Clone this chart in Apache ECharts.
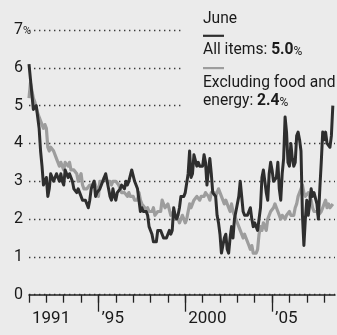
<!DOCTYPE html>
<html><head><meta charset="utf-8">
<script src="https://cdn.jsdelivr.net/npm/echarts@6/dist/echarts.min.js"></script>
<style>html,body{margin:0;padding:0;background:#ebebeb}#c{width:337px;height:335px}</style>
</head><body><div id="c"></div>
<script>
// Monthly 12-month % change, first point at the 1991 tick, last point June 2008
const allItems = [6.1,
5.7,5.3,4.9,4.9,5.0,4.7,4.4,3.8,3.4,2.9,3.0,3.1,
2.6,2.8,3.2,3.2,3.0,3.1,3.2,3.1,3.0,3.2,3.0,2.9,
3.3,3.2,3.1,3.2,3.2,3.0,2.8,2.8,2.7,2.8,2.7,2.7,
2.5,2.5,2.5,2.4,2.3,2.5,2.8,2.9,3.0,2.6,2.7,2.7,
2.8,2.9,2.9,3.1,3.2,3.0,2.8,2.6,2.5,2.8,2.6,2.5,
2.7,2.7,2.8,2.9,2.9,2.8,3.0,2.9,3.0,3.0,3.3,3.3,
3.0,3.0,2.8,2.5,2.2,2.3,2.2,2.2,2.2,2.1,1.8,1.7,
1.6,1.4,1.4,1.4,1.7,1.7,1.7,1.6,1.5,1.5,1.5,1.6,
1.7,1.6,1.7,2.3,2.1,2.0,2.1,2.3,2.6,2.6,2.6,2.7,
2.7,3.2,3.8,3.1,3.2,3.7,3.7,3.4,3.5,3.4,3.4,3.4,
3.7,3.5,2.9,3.3,3.6,3.2,2.7,2.7,2.6,2.1,1.9,1.6,
1.1,1.1,1.5,1.6,1.2,1.1,1.5,1.8,1.5,2.0,2.2,2.4,
2.6,3.0,3.0,2.2,2.1,2.1,2.1,2.2,2.3,2.0,1.8,1.9,
1.9,1.7,1.7,2.3,3.1,3.3,3.0,2.7,2.5,3.2,3.5,3.3,
3.0,3.0,3.1,3.5,2.8,2.5,3.2,3.6,4.7,4.3,3.5,3.4,
4.0,3.6,3.4,3.5,4.2,4.3,4.1,3.8,2.1,1.3,2.0,2.5,
2.1,2.4,2.8,2.6,2.7,2.7,2.4,2.0,2.8,3.5,4.3,4.1,
4.3,4.0,4.0,3.9,4.2,5.0];

const exFoodEnergy = [5.2,
5.6,5.6,5.2,5.1,5.1,4.8,4.7,4.6,4.6,4.4,4.5,4.4,
3.9,3.8,3.9,3.9,3.8,3.8,3.6,3.5,3.4,3.5,3.5,3.3,
3.5,3.5,3.4,3.5,3.3,3.3,3.3,3.3,3.2,3.0,3.1,3.2,
2.9,2.8,2.8,2.8,2.8,2.9,2.9,2.9,3.0,2.9,2.8,2.6,
3.0,3.0,3.0,3.1,3.1,3.0,3.0,3.0,2.9,3.0,3.0,3.0,
3.0,2.9,2.8,2.7,2.7,2.7,2.7,2.6,2.7,2.6,2.6,2.6,
2.5,2.5,2.5,2.7,2.5,2.4,2.4,2.3,2.2,2.3,2.2,2.2,
2.2,2.3,2.1,2.1,2.2,2.2,2.2,2.5,2.5,2.3,2.3,2.4,
2.4,2.1,2.1,2.2,2.0,2.1,2.1,1.9,2.0,2.1,2.1,1.9,
2.0,2.2,2.4,2.3,2.4,2.5,2.5,2.6,2.6,2.5,2.6,2.6,
2.6,2.7,2.7,2.6,2.5,2.7,2.7,2.7,2.6,2.6,2.8,2.7,
2.6,2.6,2.4,2.5,2.5,2.3,2.2,2.4,2.2,2.2,2.0,1.9,
1.9,1.7,1.7,1.5,1.6,1.5,1.5,1.3,1.2,1.3,1.1,1.1,
1.1,1.2,1.6,1.8,1.7,1.9,1.8,1.7,2.0,2.0,2.2,2.2,
2.3,2.4,2.3,2.2,2.2,2.0,2.1,2.1,2.0,2.1,2.1,2.2,
2.1,2.1,2.1,2.3,2.4,2.6,2.7,2.8,2.9,2.7,2.6,2.6,
2.7,2.7,2.5,2.3,2.2,2.2,2.2,2.1,2.1,2.2,2.3,2.4,
2.5,2.3,2.4,2.3,2.3,2.4];

const xTickLabels = ['1991', '\u201995', '2000', '\u201905'];
const xLabelMonths = [0, 48, 108, 168];
const majorTickMonths = [48, 108, 168];
const yearTickMonths = [];
for (let m = 0; m <= 204; m += 12) yearTickMonths.push(m);
const monthSpan = 211.5;

const FONT = 'Roboto';
const BG = '#ebebeb';
const DARK = '#2e2e2e';
const GRAY = '#9d9d9d';
const INK = '#1a1a1a';
const LEG = 15.6;

const toPairs = arr => arr.map((v, i) => [i, v]);
const lastAll = allItems[allItems.length - 1].toFixed(1);
const lastCore = exFoodEnergy[exFoodEnergy.length - 1].toFixed(1);

const richLegend = {
  n: {fontFamily: FONT, fontSize: LEG, fill: INK},
  b: {fontFamily: FONT, fontSize: LEG, fontWeight: 'bold', fill: INK},
  p: {fontFamily: FONT, fontSize: 12, fill: INK, verticalAlign: 'bottom'}
};

const chart = echarts.init(document.getElementById('c'), null, {renderer: 'canvas'});
chart.setOption({
  animation: false,
  backgroundColor: BG,
  grid: {left: 29, right: 2, top: 30, bottom: 40.3},
  xAxis: [{
    type: 'value', min: 0, max: monthSpan, position: 'bottom',
    axisLine: {show: true, onZero: false, lineStyle: {color: '#222', width: 1.5}},
    axisTick: {show: true, customValues: yearTickMonths, length: 8, inside: false, lineStyle: {color: '#222', width: 1.3}},
    axisLabel: {
      show: true, customValues: xLabelMonths, align: 'left', margin: 16,
      padding: [0, 0, 0, 3],
      fontFamily: FONT, fontSize: 17, color: INK,
      formatter: v => xTickLabels[xLabelMonths.indexOf(v)]
    },
    splitLine: {show: false}
  }, {
    type: 'value', min: 0, max: monthSpan, position: 'bottom', gridIndex: 0,
    axisLine: {show: false, onZero: false},
    axisTick: {show: true, customValues: majorTickMonths, length: 17, lineStyle: {color: '#222', width: 1.3}},
    axisLabel: {show: false},
    splitLine: {show: false}
  }],
  yAxis: {
    type: 'value', min: 0, max: 7, interval: 1,
    axisLine: {show: false}, axisTick: {show: false},
    axisLabel: {
      align: 'left', margin: 15, fontFamily: FONT, fontSize: 16, color: INK,
      formatter: v => v === 7 ? '{n|7}{p|%}' : '{n|' + v + '}',
      rich: {
        n: {fontFamily: FONT, fontSize: 16, color: INK},
        p: {fontFamily: FONT, fontSize: 11, color: INK, verticalAlign: 'bottom', padding: [0, 0, 1, 0]}
      }
    },
    splitLine: {show: true, lineStyle: {color: '#3a3a3a', width: 1.4, type: [1.4, 3.6]}}
  },
  graphic: [
    {type: 'rect', z: 1, shape: {x: 184, y: 0, width: 160, height: 124}, style: {fill: BG}},
    {type: 'text', z: 10, x: 203, y: 19, style: {text: 'June', font: LEG + 'px ' + FONT, fill: INK, verticalAlign: 'middle'}},
    {type: 'rect', z: 10, shape: {x: 203, y: 34.7, width: 21, height: 2.2}, style: {fill: DARK}},
    {type: 'text', z: 10, x: 203, y: 50, style: {
      text: '{n|All items: }{b|' + lastAll + '}{p|%}', verticalAlign: 'middle', rich: richLegend}},
    {type: 'rect', z: 10, shape: {x: 203, y: 67, width: 21, height: 2.2}, style: {fill: GRAY}},
    {type: 'text', z: 10, x: 203, y: 83, style: {text: 'Excluding food and', font: LEG + 'px ' + FONT, fill: INK, verticalAlign: 'middle'}},
    {type: 'text', z: 10, x: 203, y: 101, style: {
      text: '{n|energy: }{b|' + lastCore + '}{p|%}', verticalAlign: 'middle', rich: richLegend}}
  ],
  series: [{
    name: 'Excluding food and energy', type: 'line', z: 2,
    data: toPairs(exFoodEnergy), showSymbol: false,
    lineStyle: {color: GRAY, width: 3.2, join: 'round'}
  }, {
    name: 'All items', type: 'line', z: 3,
    data: toPairs(allItems), showSymbol: false,
    lineStyle: {color: DARK, width: 3, join: 'round'}
  }]
});
</script>
</body></html>
